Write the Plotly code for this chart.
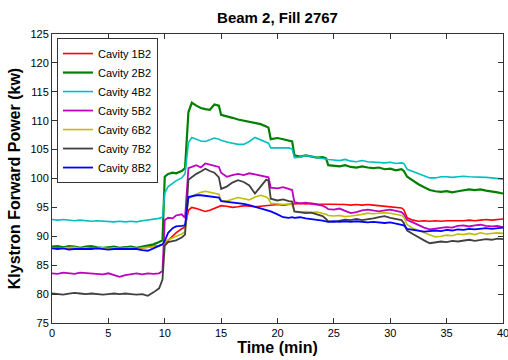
import plotly.graph_objects as go

# Time grid (min)
time_min = [0, 0.5, 1, 1.5, 2, 2.5, 3, 3.5, 4, 4.5, 5, 5.5, 6, 6.5, 7, 7.5, 8, 8.5, 9, 9.5,
            9.8, 10.0, 10.3, 10.7, 11, 11.5, 11.8, 12.1, 12.4, 12.8, 13.2, 13.6, 14, 14.4, 14.8, 15.0,
            15.5, 16, 16.5, 17, 17.5, 18, 18.5, 19,
            19.2, 19.4,
            20, 20.5, 21, 21.3,
            21.5, 22, 22.5, 23, 23.5, 24, 24.3,
            24.5, 25, 25.5, 26, 26.5, 27, 27.5, 28, 28.5, 29, 29.5, 30, 30.5, 31,
            31.2, 31.5,
            32, 32.5, 33, 33.5, 34, 34.5, 35, 35.5, 36, 36.5, 37, 37.5, 38, 38.5, 39, 39.5, 40]

cavity_1B2 = [88.0, 88.1, 88.0, 88.0, 87.9, 88.0, 88.1, 88.0, 87.9, 88.0, 88.0, 87.9, 88.0, 88.1, 88.0, 87.9, 88.0, 88.1, 88.2, 88.4,
              88.6, 88.8, 89.3, 90.0, 90.6, 91.3, 91.6, 94.5, 95.0, 94.8, 94.5, 94.3, 94.5, 94.8, 95.2, 95.3,
              95.2, 95.0, 95.1, 95.3, 95.2, 95.1, 95.2, 95.3,
              95.4, 95.4,
              95.5, 95.4, 95.6, 95.6,
              95.6, 95.7, 95.6, 95.7, 95.6, 95.6, 95.5,
              95.6, 95.5, 95.6, 95.5, 95.4, 95.5, 95.4, 95.5, 95.4, 95.3, 95.3, 95.2, 95.1, 94.9,
              94.6, 93.2,
              92.8, 92.6, 92.7, 92.6, 92.7, 92.6, 92.7, 92.7, 92.6, 92.7, 92.8, 92.7, 92.8, 92.9, 92.8, 92.9, 93.0]

cavity_2B2 = [88.2, 88.3, 88.1, 88.3, 88.2, 88.0, 88.2, 88.3, 88.1, 88.0, 88.1, 88.2, 88.0, 88.1, 88.2, 88.0, 88.2, 88.4, 88.6, 89.0,
              89.3, 100.3, 100.8, 101.0, 100.9, 101.3, 101.8, 111.5, 113.1, 112.6, 112.2, 112.0, 111.9, 112.8, 112.6, 111.0,
              110.8, 110.5, 110.2, 110.0, 109.8, 109.6, 109.4, 109.0,
              108.8, 106.8,
              107.0, 106.8, 106.6, 106.4,
              104.0, 103.8, 104.0, 103.8, 103.6, 103.7, 103.5,
              102.3, 102.2, 102.1, 102.3, 102.0, 101.9, 102.1, 101.9, 101.8, 101.9, 101.6, 101.7, 101.4, 101.6,
              101.3, 100.3,
              99.6, 99.0, 98.5, 98.0, 97.8, 97.7, 97.8, 97.6, 97.8, 98.0, 98.1, 98.0, 98.1, 97.9, 97.8, 97.6, 97.4]

cavity_4B2 = [92.9, 92.8, 92.9, 92.8, 92.7, 92.8, 92.7, 92.6, 92.7, 92.6, 92.6, 92.5, 92.6, 92.5, 92.6, 92.5, 92.7, 92.8, 93.0, 93.1,
              93.3, 97.5, 98.6, 99.2, 99.6, 100.1, 100.8, 106.2, 107.1, 106.8, 106.5, 106.4, 106.7, 107.0, 106.8, 106.6,
              106.3, 106.1, 105.9, 105.9, 106.4, 107.1, 106.7, 106.3,
              106.1, 105.3,
              105.3, 105.2, 105.3, 105.1,
              103.6, 103.7, 104.0, 103.8, 103.6, 103.5, 103.4,
              103.3, 103.2, 103.1, 103.3, 103.0, 102.9, 103.1, 102.9, 102.8, 102.8, 102.7, 102.8, 102.6, 102.7,
              102.6, 101.6,
              101.2, 100.8, 100.4, 100.1, 100.1, 100.3, 100.3, 100.2, 100.3, 100.4, 100.3, 100.3, 100.2, 100.2, 100.1, 100.0, 99.9]

cavity_5B2 = [83.6, 83.5, 83.7, 83.6, 83.5, 83.7, 83.6, 83.6, 83.5, 83.4, 83.6, 83.3, 83.0, 83.3, 83.5, 83.6, 83.4, 83.6, 83.5, 83.6,
              84.0, 92.8, 93.2, 93.1, 93.6, 93.8, 93.2, 101.8, 102.0, 102.3, 101.9, 102.6, 102.4, 102.2, 102.0, 101.0,
              100.3, 100.6, 100.8, 100.6, 100.9, 100.7, 100.5, 100.4,
              100.2, 98.4,
              98.3, 98.5, 98.2, 98.0,
              95.9, 95.7, 95.8, 95.6, 95.5, 95.3, 95.0,
              94.7, 94.6, 94.8, 94.4, 94.0, 94.2, 94.5, 94.6, 94.4, 94.3, 94.5, 94.6, 94.4, 94.2,
              93.8, 92.8,
              92.4, 91.9, 91.5, 91.2, 91.3, 91.4, 91.6, 91.5, 91.8, 91.9, 91.7, 91.9, 92.0, 91.8, 91.7, 91.8, 91.6]

cavity_6B2 = [88.0, 87.9, 88.0, 88.0, 88.1, 87.9, 88.0, 87.9, 88.0, 88.0, 87.9, 88.0, 87.9, 88.0, 88.0, 87.9, 88.0, 88.0, 88.2, 88.3,
              88.6, 89.0, 89.4, 89.7, 90.0, 90.4, 90.8, 96.5, 96.9, 97.3, 97.6, 97.8, 97.6, 97.5, 97.3, 96.2,
              96.1, 96.4, 96.7, 96.5, 96.3, 96.8, 97.1, 96.8,
              96.5, 95.7,
              95.6, 95.5, 95.6, 95.4,
              94.3, 94.2, 94.3, 94.1, 94.2, 94.0, 93.8,
              93.6, 93.5, 93.6, 93.4, 93.5, 93.6, 93.8, 94.0, 93.9, 94.0, 94.1, 94.0, 93.8, 93.6,
              93.3, 92.0,
              91.4, 91.0, 90.7, 90.2, 89.9, 90.0, 90.2, 90.1, 90.4, 90.3, 90.5, 90.3, 90.6, 90.4, 90.5, 90.6, 90.5]

cavity_7B2 = [80.1, 80.0, 79.9, 80.1, 80.2, 80.1, 80.0, 80.1, 80.0, 79.9, 80.0, 80.1, 80.0, 80.1, 80.0, 79.9, 80.0, 79.7, 80.3, 81.0,
              82.5, 88.4, 89.0, 89.2, 89.3, 89.8, 90.3, 99.8, 100.3, 100.8, 101.2, 101.7, 101.3, 101.0, 100.2, 98.2,
              98.6, 99.3, 99.7, 99.4, 98.8, 97.4, 98.6, 99.8,
              99.6, 96.5,
              96.2, 96.4, 96.1, 96.0,
              94.3, 94.2, 94.0, 94.1, 93.8, 93.5, 93.0,
              92.6, 92.5, 92.7, 92.9, 92.8, 93.0, 92.8, 92.9, 93.1, 93.3, 93.5, 93.2, 93.0, 92.8,
              92.3, 91.0,
              90.4, 89.8, 89.3, 88.8, 88.9, 89.1, 89.0, 89.2, 89.1, 89.3, 89.4, 89.2, 89.4, 89.5, 89.4, 89.6, 89.5]

cavity_8B2 = [87.9, 87.8, 87.9, 87.7, 87.8, 87.8, 87.7, 87.8, 87.9, 87.8, 87.7, 87.8, 87.8, 87.7, 87.8, 87.8, 87.6, 87.5, 87.9, 88.4,
              88.6, 89.2, 90.6, 91.4, 91.7, 91.8, 91.9, 96.8, 96.9, 97.1, 97.1, 97.0, 96.9, 96.8, 96.7, 96.1,
              96.0, 95.9, 95.7, 95.6, 95.4, 95.1, 94.9, 94.6,
              94.5, 94.3,
              93.8, 93.3, 93.2, 93.3,
              93.2, 93.3, 93.1, 93.0, 92.8, 92.7, 92.6,
              92.5, 92.6, 92.5, 92.6, 92.5, 92.6, 92.5, 92.4, 92.5, 92.4, 92.3, 92.4, 92.2, 92.1,
              91.9, 91.3,
              91.1, 90.9, 90.8, 90.9, 91.0, 90.9, 91.1, 91.0, 91.2, 91.1, 91.3, 91.2, 91.3, 91.4, 91.3, 91.4, 91.5]

series_names = ["Cavity 1B2", "Cavity 2B2", "Cavity 4B2", "Cavity 5B2", "Cavity 6B2", "Cavity 7B2", "Cavity 8B2"]
series_values = [cavity_1B2, cavity_2B2, cavity_4B2, cavity_5B2, cavity_6B2, cavity_7B2, cavity_8B2]
series_colors = ["#FF0000", "#008000", "#00BFBF", "#BF00BF", "#BFBF00", "#404040", "#0000FF"]
series_widths = [1.6, 2.2, 1.6, 1.8, 1.6, 1.8, 1.8]

x_ticks = [0, 5, 10, 15, 20, 25, 30, 35, 40]
y_ticks = [75, 80, 85, 90, 95, 100, 105, 110, 115, 120, 125]

fig = go.Figure()
for name, vals, col, w in zip(series_names, series_values, series_colors, series_widths):
    fig.add_trace(go.Scatter(x=time_min, y=vals, mode="lines", name=name,
                             line=dict(color=col, width=w)))

font_family = "Liberation Sans, Arial, sans-serif"
axis_common = dict(showline=True, mirror="ticks", linecolor="#333333", linewidth=1,
                   ticks="inside", ticklen=5, tickcolor="#333333", showgrid=False,
                   zeroline=False, tickfont=dict(family=font_family, size=11, color="#000000"),
                   automargin=False, tickmode="array", ticklabeloverflow="allow")

fig.update_layout(
    width=508, height=360,
    margin=dict(l=52, r=5, t=34, b=37),
    paper_bgcolor="white", plot_bgcolor="white",
    font=dict(family=font_family, size=11, color="#000000"),
    title=dict(text="<b>Beam 2, Fill 2767</b>", x=0.5, xref="paper", xanchor="center",
               y=1 - 18 / 360, yanchor="middle", yref="container",
               font=dict(family=font_family, size=15, color="#000000")),
    xaxis=dict(range=[0, 40], tickvals=x_ticks, ticktext=[str(v) for v in x_ticks],
               title=dict(text="<b>Time (min)</b>", standoff=1,
                          font=dict(family=font_family, size=16, color="#000000")),
               **axis_common),
    yaxis=dict(range=[75, 125], tickvals=y_ticks, ticktext=[str(v) for v in y_ticks],
               title=dict(text="<b>Klystron Forward Power (kw)</b>", standoff=5,
                          font=dict(family=font_family, size=16, color="#000000")),
               **axis_common),
    legend=dict(x=0.011, y=0.986, xanchor="left", yanchor="top",
                bgcolor="white", bordercolor="#333333", borderwidth=1,
                font=dict(family=font_family, size=11, color="#000000"),
                tracegroupgap=0, itemwidth=30),
    showlegend=True,
)

fig.write_html("out.html")
